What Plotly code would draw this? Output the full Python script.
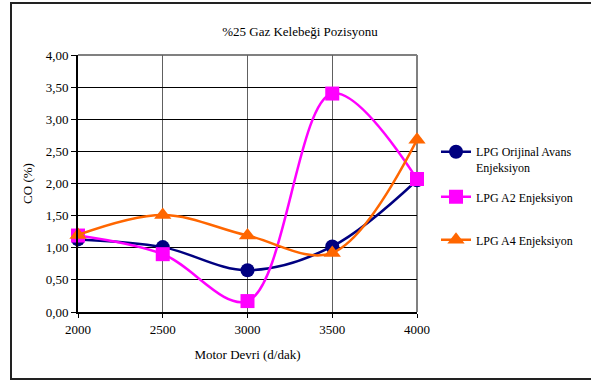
import plotly.graph_objects as go

rpm = [2000, 2500, 3000, 3500, 4000]
co_orijinal = [1.13, 1.01, 0.65, 1.02, 2.05]
co_a2 = [1.19, 0.90, 0.17, 3.40, 2.07]
co_a4 = [1.20, 1.51, 1.19, 0.92, 2.68]
names = ["LPG Orijinal Avans<br>Enjeksiyon", "LPG A2 Enjeksiyon", "LPG A4 Enjeksiyon"]
colors = ["#000080", "#FF00FF", "#FF6600"]
symbols = ["circle", "square", "triangle-up"]

W, H = 591, 383
L, R, T, B = 78, 174, 55, 71
pw, ph = W - L - R, H - T - B

font = "Liberation Serif"


def px_x(px):
    return (px - L) / pw


def px_y(py):
    return (H - B - py) / ph


legend_ids = ["legend", "legend2", "legend3"]
legend_centers = [160, 197, 240]

fig = go.Figure()
for ys, n, c, s, lg in zip([co_orijinal, co_a2, co_a4], names, colors, symbols, legend_ids):
    fig.add_trace(go.Scatter(
        x=rpm, y=ys, name=n, mode="lines+markers",
        line=dict(color=c, width=2.5, shape="spline", smoothing=1.0),
        marker=dict(symbol=s, size=14 if s != "triangle-up" else 15, color=c),
        cliponaxis=False, legend=lg,
    ))

shapes = [
    dict(type="rect", xref="paper", yref="paper",
         x0=px_x(11), x1=px_x(600), y0=px_y(379), y1=px_y(3),
         line=dict(color="#222222", width=2), layer="below"),
    dict(type="line", xref="paper", yref="paper", x0=0, x1=1, y0=1, y1=1,
         line=dict(color="#808080", width=2), layer="below"),
    dict(type="line", xref="paper", yref="paper", x0=1, x1=1, y0=0, y1=1,
         line=dict(color="#808080", width=2), layer="below"),
]

legend_common = dict(xanchor="left", yanchor="middle", bgcolor="rgba(0,0,0,0)",
                     font=dict(size=12, family=font, color="black"), valign="top")

fig.update_layout(
    width=W, height=H,
    margin=dict(l=L, r=R, t=T, b=B),
    paper_bgcolor="white", plot_bgcolor="white",
    separators=",.",
    font=dict(family=font, size=13, color="black"),
    title=dict(text="%25 Gaz Kelebeği Pozisyonu", x=300 / W, xanchor="center",
               y=1 - 31 / H, yanchor="middle", font=dict(size=13, family=font)),
    xaxis=dict(range=[2000, 4000], tickvals=rpm, ticktext=[str(v) for v in rpm],
               showgrid=True, gridcolor="#606060", gridwidth=1,
               showline=True, linecolor="black", linewidth=2,
               ticks="outside", ticklen=4, tickcolor="black",
               zeroline=False, tickfont=dict(size=13, family=font),
               title=dict(text="Motor Devri (d/dak)", standoff=14, font=dict(size=13, family=font))),
    yaxis=dict(range=[0, 4], dtick=0.5, tickformat=".2f",
               showgrid=True, gridcolor="black", gridwidth=1,
               showline=True, linecolor="black", linewidth=2,
               ticks="outside", ticklen=5, tickcolor="black",
               zeroline=False, tickfont=dict(size=13, family=font),
               title=dict(text="CO (%)", standoff=10, font=dict(size=13, family=font))),
    legend=dict(x=px_x(436), y=px_y(legend_centers[0]), **legend_common),
    legend2=dict(x=px_x(436), y=px_y(legend_centers[1]), **legend_common),
    legend3=dict(x=px_x(436), y=px_y(legend_centers[2]), **legend_common),
    shapes=shapes,
    showlegend=True,
)

fig.write_html("out.html", config={"displayModeBar": False},
               post_script="document.body.style.margin='0';")
